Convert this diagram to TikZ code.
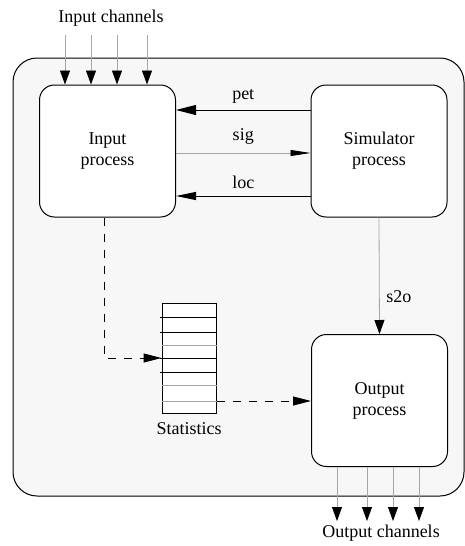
\documentclass[tikz,border=0pt]{standalone}
\usepackage{fontspec}
\setmainfont{Liberation Serif}
\usetikzlibrary{arrows.meta}

\tikzset{
    proc/.style={draw, fill=white, rounded corners=7.5pt, line width=0.5pt,
        minimum width=68pt, minimum height=66pt, align=center, inner sep=0pt},
    chan/.style={draw=gray!70, line width=0.4pt, -{Triangle[length=7pt,width=5pt,black]}},
    msg/.style={line width=0.5pt, -{Triangle[length=10pt,width=5pt]}},
    dashline/.style={line width=0.5pt, dash pattern=on 4pt off 4pt, -{Triangle[length=9pt,width=4.5pt]}}
}

\begin{document}
\begin{tikzpicture}[x=0.5pt, y=-0.5pt, font=\fontsize{9}{10.5}\selectfont]
    \useasboundingbox (0,0) rectangle (465,546);

    % environment
    \draw[fill=black!3, line width=0.5pt, rounded corners=12pt] (13,58) rectangle (464,496);

    \node[proc] at (107.5,151) (in) {Input\\process};
    \node[proc] at (379,151) (sim) {Simulator\\process};
    \node[proc] at (379.5,400.5) (out) {Output\\process};

    \node[draw, fill=white, line width=0.5pt, minimum width=27pt, minimum height=55pt, inner sep=0pt]
        at (189,358) (stat) {};
    \node[below=1pt] at (stat.south) (statlabel) {Statistics};

    % buffer slots
    \foreach \y in {317,332,358,372}
        \draw[line width=0.5pt] (160,\y) -- (217,\y);
    \foreach \y in {345,385,401}
        \draw[gray!70, line width=0.4pt] (stat.west |- 0,\y) -- (stat.east |- 0,\y);

    \node at (111,18) (inlabel) {Input channels};
    \node at (381,533) (outlabel) {Output channels};

    \foreach \x in {65,91,117,147}
        \draw[chan] (\x,35) -- (in.north -| \x,0);
    \foreach \x in {337,367,393,419}
        \draw[chan] (out.south -| \x,0) -- (\x,521);

    \draw[msg] (sim.west |- 0,110) -- node[above] {pet} (in.east |- 0,110);
    \draw[draw=gray!70, line width=0.4pt, -{Triangle[length=10pt,width=3pt,black]}]
        (in.east |- 0,153) -- node[above, yshift=1pt, black] {sig} (sim.west |- 0,153);
    \draw[msg, -{Triangle[length=10pt,width=4pt]}] (sim.west |- 0,196) -- node[above] {loc} (in.east |- 0,196);
    \draw[draw=gray!70, line width=0.4pt, -{Triangle[length=7pt,width=5pt,black]}]
        (sim.south) -- node[right, pos=0.68, black] {s2o} (out.north);

    \draw[dashline] (in.south -| 104,0) |- (stat.west);
    \draw[dashline] (stat.east |- 0,401) -- (out.west |- 0,401);
\end{tikzpicture}
\end{document}
